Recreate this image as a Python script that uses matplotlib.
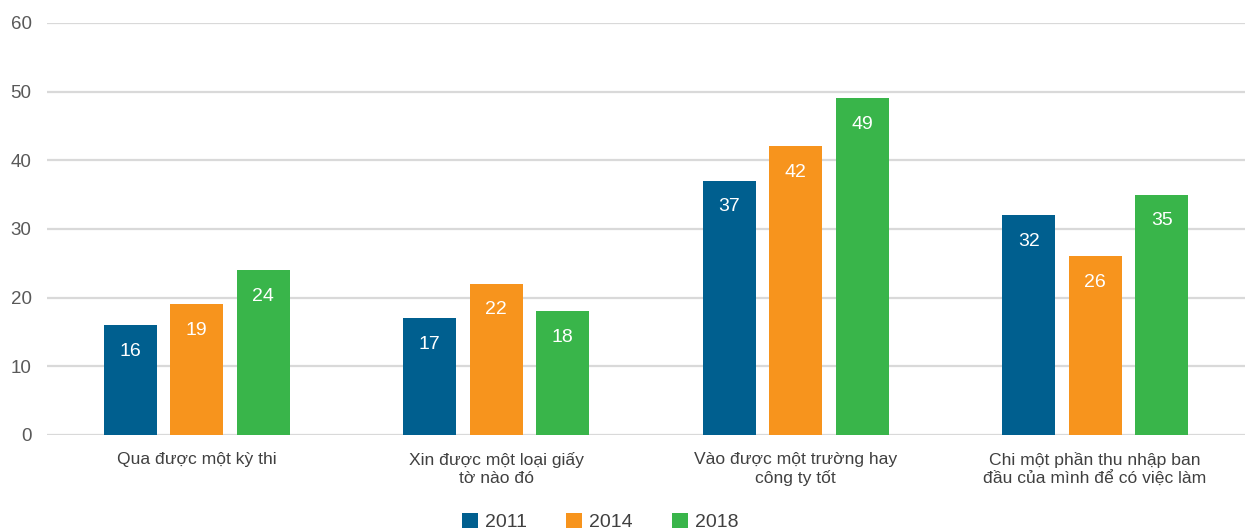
import matplotlib
matplotlib.use("Agg")
import matplotlib.pyplot as plt
import numpy as np

# ---- Data ----
categories = [
    "Qua được một kỳ thi",
    "Xin được một loại giấy\ntờ nào đó",
    "Vào được một trường hay\ncông ty tốt",
    "Chi một phần thu nhập ban\nđầu của mình để có việc làm",
]
years = ["2011", "2014", "2018"]
v2011 = [16, 17, 37, 32]
v2014 = [19, 22, 42, 26]
v2018 = [24, 18, 49, 35]
yticks = [0, 10, 20, 30, 40, 50, 60]

COLORS = ["#005f8f", "#f7941d", "#39b54a"]
TEXT = "#404040"

plt.rcParams["font.family"] = ["Liberation Sans", "DejaVu Sans"]

fig = plt.figure(figsize=(12.48, 5.31), dpi=100)
ax = fig.add_axes([0.0375, 0.181, 0.96, 0.776])

x = np.arange(len(categories))
width = 0.177
step = 0.222

for i, (vals, yr, col) in enumerate(zip([v2011, v2014, v2018], years, COLORS)):
    bars = ax.bar(x + (i - 1) * step, vals, width, color=col, label=yr, zorder=3)
    for b, v in zip(bars, vals):
        ax.text(b.get_x() + b.get_width() / 2, v - 3.8, str(v),
                ha="center", va="center", color="white", fontsize=14, zorder=4)

ax.set_xlim(-0.5, 3.5)
ax.set_ylim(0, 60)
ax.set_yticks(yticks)
ax.set_xticks(x)
ax.set_xticklabels(categories, fontsize=12.6, color=TEXT, linespacing=1.25)
ax.tick_params(axis="y", labelsize=13.5, labelcolor="#595959", length=0, pad=11)
ax.tick_params(axis="x", length=0, pad=12)
ax.grid(axis="y", color="#d9d9d9", linewidth=1.6, zorder=0)
for s in ax.spines.values():
    s.set_visible(False)

ax.legend(loc="center", bbox_to_anchor=(600 / 1248, 9 / 531),
          bbox_transform=fig.transFigure, ncol=3, frameon=False,
          fontsize=14, handlelength=0.85, handleheight=0.85, columnspacing=2.0,
          handletextpad=0.35, labelcolor=TEXT)

fig.savefig("out.png", dpi=100)
